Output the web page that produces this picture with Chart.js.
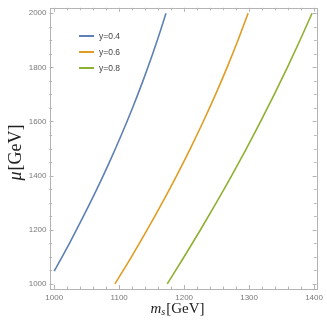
<!DOCTYPE html>
<html><head><meta charset="utf-8">
<script src="https://cdn.jsdelivr.net/npm/chart.js@4"></script>
<style>html,body{margin:0;padding:0;background:#fff}#w{width:327px;height:327px}</style>
</head><body><div id="w"><canvas id="c"></canvas></div>
<script>
const seriesLabels = ['y=0.4', 'y=0.6', 'y=0.8'];
const ms04 = [1000, 1023.4, 1045.0, 1065.6, 1085.0, 1103.3, 1120.5, 1136.6, 1151.6, 1165.5, 1172.0];
const mu04 = [1047, 1150, 1250, 1350, 1450, 1550, 1650, 1750, 1850, 1950, 2000];
const ms06 = [1093.5, 1118.9, 1143.2, 1166.4, 1188.5, 1209.5, 1229.5, 1248.4, 1266.2, 1282.9, 1298.5];
const mu06 = [1000, 1100, 1200, 1300, 1400, 1500, 1600, 1700, 1800, 1900, 2000];
const ms08 = [1174, 1200.0, 1225.2, 1249.6, 1273.2, 1295.9, 1317.8, 1338.8, 1359.0, 1378.4, 1397];
const mu08 = [1000, 1100, 1200, 1300, 1400, 1500, 1600, 1700, 1800, 1900, 2000];
const xMajor = [1000, 1100, 1200, 1300, 1400];
const yMajor = [1000, 1200, 1400, 1600, 1800, 2000];
const colors = ['#5E81B5', '#E19C24', '#8FB032'];

const pts = (xs, ys) => xs.map((x, i) => ({x: x, y: ys[i]}));
const allX = [ms04, ms06, ms08], allY = [mu04, mu06, mu08];

const framePlugin = {
  id: 'frame',
  afterDraw(chart) {
    const ctx = chart.ctx, a = chart.chartArea, xs = chart.scales.x, ys = chart.scales.y;
    ctx.save();
    ctx.strokeStyle = '#b4b4b4';
    ctx.lineWidth = 1;
    ctx.strokeRect(Math.round(a.left) + 0.5, Math.round(a.top) + 0.5, Math.round(a.right - a.left), Math.round(a.bottom - a.top));
    ctx.beginPath();
    for (let v = 1000; v <= 1400; v += 20) {
      const p = Math.round(xs.getPixelForValue(v)) + 0.5;
      const L = (v % 100 === 0) ? 4 : 2.5;
      ctx.moveTo(p, a.bottom); ctx.lineTo(p, a.bottom - L);
      ctx.moveTo(p, a.top); ctx.lineTo(p, a.top + L);
    }
    for (let v = 1000; v <= 2000; v += 50) {
      const p = Math.round(ys.getPixelForValue(v)) + 0.5;
      const L = (v % 200 === 0) ? 4 : 2.5;
      ctx.moveTo(a.left, p); ctx.lineTo(a.left + L, p);
      ctx.moveTo(a.right, p); ctx.lineTo(a.right - L, p);
    }
    ctx.stroke();
    // legend
    ctx.font = '8.5px "Liberation Sans", Arial, sans-serif';
    ctx.textBaseline = 'middle';
    const lx = 79, ly = [36, 52, 68];
    chart.data.datasets.forEach((d, i) => {
      ctx.strokeStyle = d.borderColor; ctx.lineWidth = 2;
      ctx.beginPath(); ctx.moveTo(lx, ly[i]); ctx.lineTo(lx + 15, ly[i]); ctx.stroke();
      ctx.fillStyle = '#444';
      ctx.fillText(d.label, lx + 20, ly[i] + 0.5);
    });
    // x title
    ctx.fillStyle = '#222';
    ctx.textBaseline = 'alphabetic';
    const cx = 177;
    ctx.font = 'italic 15px "Liberation Serif", serif';
    const wm = ctx.measureText('m').width;
    ctx.font = 'italic 10px "Liberation Serif", serif';
    const ws = ctx.measureText('s').width;
    ctx.font = '15px "Liberation Serif", serif';
    const wg = ctx.measureText('[GeV]').width;
    let x0 = cx - (wm + ws + wg) / 2, by = 313;
    ctx.font = 'italic 15px "Liberation Serif", serif';
    ctx.fillText('m', x0, by);
    ctx.font = 'italic 10px "Liberation Serif", serif';
    ctx.fillText('s', x0 + wm, by + 2);
    ctx.font = '15px "Liberation Serif", serif';
    ctx.fillText('[GeV]', x0 + wm + ws + 1, by);
    // y title
    ctx.save();
    ctx.translate(21, 153);
    ctx.rotate(-Math.PI / 2);
    ctx.font = 'italic 18px "Liberation Serif", serif';
    const wmu = ctx.measureText('μ').width;
    ctx.font = '18px "Liberation Serif", serif';
    const wg2 = ctx.measureText('[GeV]').width;
    const y0 = -(wmu + wg2) / 2;
    ctx.font = 'italic 18px "Liberation Serif", serif';
    ctx.fillText('μ', y0, 0);
    ctx.font = '18px "Liberation Serif", serif';
    ctx.fillText('[GeV]', y0 + wmu + 1, 0);
    ctx.restore();
    ctx.restore();
  }
};

new Chart(document.getElementById('c'), {
  type: 'scatter',
  data: {
    datasets: seriesLabels.map((lab, i) => ({
      label: lab,
      data: pts(allX[i], allY[i]),
      showLine: true,
      borderColor: colors[i],
      backgroundColor: colors[i],
      borderWidth: 1.6,
      pointRadius: 0,
      cubicInterpolationMode: 'monotone'
    }))
  },
  options: {
    responsive: true, maintainAspectRatio: false, animation: false,
    layout: {padding: {left: 0, right: 7, top: 5, bottom: 0}},
    plugins: {legend: {display: false}, tooltip: {enabled: false}},
    scales: {
      x: {
        type: 'linear', min: 992.7, max: 1404,
        afterBuildTicks: s => { s.ticks = xMajor.map(v => ({value: v})); },
        afterFit: s => { s.height = 38; },
        grid: {display: false, drawTicks: false},
        border: {display: false},
        ticks: {padding: 4, color: '#7a7a7a', font: {size: 8, family: '"Liberation Sans", Arial, sans-serif'}, maxRotation: 0, callback: v => String(v)}
      },
      y: {
        type: 'linear', min: 981, max: 2020,
        afterBuildTicks: s => { s.ticks = yMajor.map(v => ({value: v})); },
        afterFit: s => { s.width = 49.5; },
        grid: {display: false, drawTicks: false},
        border: {display: false},
        ticks: {padding: 3, color: '#7a7a7a', font: {size: 8, family: '"Liberation Sans", Arial, sans-serif'}, callback: v => String(v)}
      }
    }
  },
  plugins: [framePlugin]
});
</script></body></html>
